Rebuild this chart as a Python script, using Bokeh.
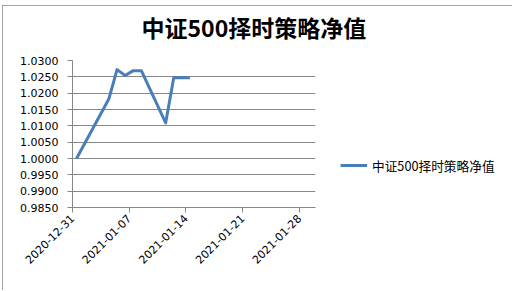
import pandas as pd
from datetime import datetime
from bokeh.plotting import figure
from bokeh.models import (ColumnDataSource, Range1d, FixedTicker, DatetimeTickFormatter,
                          NumeralTickFormatter, Legend, LegendItem, Title)
from bokeh.embed import file_html
from bokeh.resources import INLINE
import math

# ---- data ----
title_text = "中证500择时策略净值"
series_name = "中证500择时策略净值"
dates = ["2020-12-31", "2021-01-04", "2021-01-05", "2021-01-06", "2021-01-07",
         "2021-01-08", "2021-01-11", "2021-01-12", "2021-01-13", "2021-01-14"]
nav = [1.0000, 1.0183, 1.0272, 1.0254, 1.0269, 1.0269, 1.0109, 1.0247, 1.0247, 1.0247]
x_tick_labels = ["2020-12-31", "2021-01-07", "2021-01-14", "2021-01-21", "2021-01-28"]
y_ticks = [0.985, 0.990, 0.995, 1.000, 1.005, 1.010, 1.015, 1.020, 1.025, 1.030]

# points sit in the middle of each day slot (Excel date axis)
xs = pd.to_datetime(dates) + pd.Timedelta(hours=12)
src = ColumnDataSource(dict(x=xs, y=nav))

GRAY = "#878787"
p = figure(frame_width=243, frame_height=147,
           min_border_left=70, min_border_right=196, min_border_top=55, min_border_bottom=83,
           x_axis_type="datetime",
           x_range=Range1d(datetime(2020, 12, 31), datetime(2021, 1, 30)),
           y_range=Range1d(y_ticks[0], y_ticks[-1]),
           output_backend="svg", toolbar_location=None)
p.margin = (5, 0, 0, 2)
p.styles = {"outline": "1px solid " + GRAY, "outline-offset": "-1px"}
p.outline_line_color = None
p.background_fill_color = "white"
p.border_fill_color = "white"

r = p.line("x", "y", source=src, line_color="#4A7EBB", line_width=3, line_join="round")

# spacer between title and frame, then the title itself
spacer = Title(text=" ", text_font_size="1px", standoff=14)
p.add_layout(spacer, "above")
t = Title(text=title_text, align="left", offset=69, standoff=0,
          text_font="Noto Sans CJK SC", text_font_size="23px", text_font_style="bold",
          text_color="#000000")
p.add_layout(t, "above")

# axes
tick_ms = [pd.Timestamp(d).value // 10**6 for d in x_tick_labels]
p.xaxis.ticker = FixedTicker(ticks=tick_ms)
fmt = "%Y-%m-%d"
p.xaxis.formatter = DatetimeTickFormatter(days=fmt, months=fmt, years=fmt, hours=fmt,
                                          hourmin=fmt, minutes=fmt, minsec=fmt,
                                          seconds=fmt, milliseconds=fmt, microseconds=fmt)
p.xaxis.major_label_orientation = math.pi / 4
p.yaxis.ticker = FixedTicker(ticks=y_ticks)
p.yaxis.formatter = NumeralTickFormatter(format="0.0000")
for ax in (p.xaxis, p.yaxis):
    ax.axis_line_color = GRAY
    ax.major_tick_line_color = GRAY
    ax.major_tick_out = 5
    ax.major_tick_in = 0
    ax.minor_tick_line_color = None
    ax.major_label_text_font = "DejaVu Sans"
    ax.major_label_text_font_size = "11px"
    ax.major_label_text_color = "#000000"
p.yaxis.major_label_standoff = 9
p.xaxis.major_label_standoff = 4
p.xgrid.grid_line_color = None
p.ygrid.grid_line_color = GRAY
p.ygrid.ticker = FixedTicker(ticks=y_ticks)

legend = Legend(items=[LegendItem(label=series_name, renderers=[r])],
                location=(25, 32), glyph_width=27, label_standoff=5,
                padding=0, margin=25, border_line_alpha=0, background_fill_alpha=0,
                label_text_font="Noto Sans CJK SC", label_text_font_size="12.7px",
                label_text_color="#000000")
p.add_layout(legend, "right")

open("out.html", "w").write(file_html(p, INLINE))
